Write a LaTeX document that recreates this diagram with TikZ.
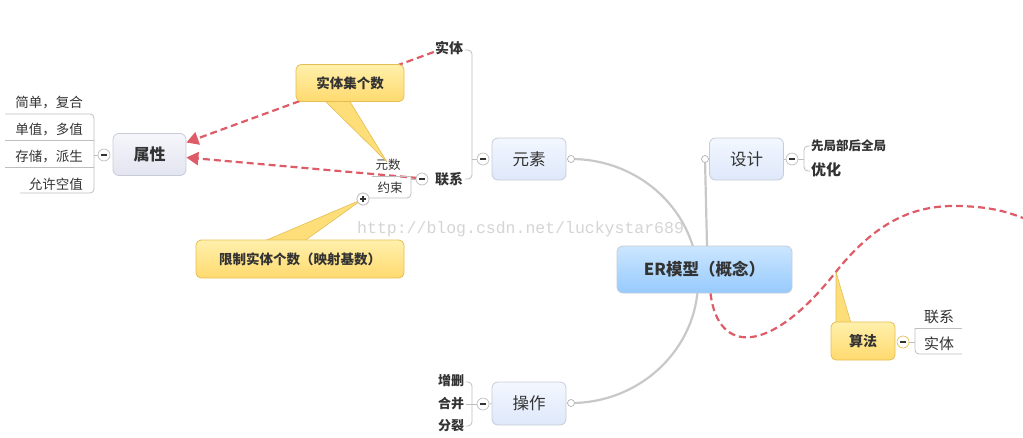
\documentclass[tikz,border=0pt]{standalone}
\usepackage{fontspec}
\usetikzlibrary{arrows.meta}
\setmainfont{Noto Sans CJK SC}
\newfontfamily\wmfont{Liberation Mono}
\definecolor{linegray}{RGB}{200,200,200}
\definecolor{thingray}{RGB}{190,190,190}
\definecolor{boxborder}{RGB}{198,204,214}
\definecolor{redl}{RGB}{222,92,104}
\definecolor{ytop}{RGB}{255,240,172}
\definecolor{ybot}{RGB}{255,218,110}
\definecolor{yfill}{RGB}{253,222,120}
\definecolor{yborder}{RGB}{228,190,84}
\definecolor{btop}{RGB}{204,230,255}
\definecolor{bbot}{RGB}{150,202,252}
\definecolor{ltop}{RGB}{243,247,255}
\definecolor{lbot}{RGB}{222,232,250}
\definecolor{ptop}{RGB}{246,246,251}
\definecolor{pbot}{RGB}{226,228,240}
\definecolor{txt}{RGB}{51,51,51}
\definecolor{wm}{RGB}{212,212,212}
\begin{document}
\begin{tikzpicture}[x=1pt,y=-1pt,
  topic/.style={draw=boxborder, line width=0.8pt, rounded corners=6pt, inner sep=0pt, text=txt},
  subtopic/.style={topic, top color=ltop, bottom color=lbot, minimum width=74pt, minimum height=42pt, font=\fontsize{16.5}{18}\selectfont},
  callbox/.style={draw=yborder, line width=0.8pt, rounded corners=5pt, top color=ytop, bottom color=ybot, inner sep=0pt, text=txt, font=\bfseries\fontsize{13.5}{15}\selectfont},
  pointer/.style={fill=yfill, draw=yborder, line width=0.6pt, line join=round},
  minus/.style={circle, draw=thingray, line width=0.7pt, fill=white, minimum size=12pt, inner sep=0pt,
    path picture={\draw[line width=1.2pt, black!80] ([xshift=-3pt]path picture bounding box.center) -- ([xshift=3pt]path picture bounding box.center);}},
  plus/.style={minus, path picture={\draw[line width=1.1pt, black!80] ([xshift=-3pt]path picture bounding box.center) -- ([xshift=3pt]path picture bounding box.center) ([yshift=-3pt]path picture bounding box.center) -- ([yshift=3pt]path picture bounding box.center);}},
  endc/.style={circle, draw=gray!60, line width=0.7pt, fill=white, minimum size=7pt, inner sep=0pt},
  leaf/.style={inner sep=0pt, text=txt, font=\fontsize{13.5}{15}\selectfont},
  bleaf/.style={inner sep=0pt, text=txt, font=\bfseries\fontsize{14}{16}\selectfont},
  thinl/.style={draw=thingray, line width=0.8pt},
  arcl/.style={draw=linegray, line width=2.2pt},
  rdash/.style={draw=redl, line width=2.2pt, dash pattern=on 7pt off 4pt},
  rarrow/.style={rdash, -{Triangle[length=12pt, width=13pt]}}
]
\useasboundingbox (0,0) rectangle (1023,437);

% watermark
\node[anchor=west, inner sep=0pt, text=wm, font=\wmfont\fontsize{16.5}{18}\selectfont] (wmk) at (357,229) {http://blog.csdn.net/luckystar689};

% connector end points
\coordinate (ysc) at (571,159);
\coordinate (czc) at (571,403);
\coordinate (sjc) at (705,159);

% main gray arc (behind the central topic)
\draw[arcl] (ysc) .. controls (641,159) and (698,213) .. (698,281)
                   .. controls (698,348) and (641,403) .. (czc);
\draw[arcl] (sjc) -- (707,246);

% central topic
\node[topic, top color=btop, bottom color=bbot, minimum width=175pt, minimum height=47pt,
      font=\bfseries\fontsize{16.5}{19}\selectfont] (er) at (704.5,269.5) {ER模型（概念）};

% red relationship curve
\draw[rdash] ([xshift=6pt]er.south) .. controls (718,355) and (770,355) .. (835,273)
             .. controls (880,216) and (920,205) .. (960,206)
             .. controls (990,207) and (1005,211) .. (1023,218);

% subtopics
\node[subtopic] (ys) at (529,159) {元素};
\node[subtopic] (sj) at (746.5,159) {设计};
\node[subtopic, minimum height=43pt] (cz) at (529,403.5) {操作};
\node[topic, top color=ptop, bottom color=pbot, minimum width=73pt, minimum height=42pt,
      font=\bfseries\fontsize{16}{18}\selectfont] (sx) at (149.5,154.5) {属性};

\node[endc] at (ysc) {};
\node[endc] at (czc) {};
\node[endc] at (sjc) {};

% ---------- 元素 branch ----------
\node[minus] (ysm) at (483,159) {};
\node[bleaf] (st) at (449,48) {实体};
\node[bleaf] (lx) at (449,179) {联系};
\draw[thinl, rounded corners=4pt] (465,50) -- (472,50) -- (472,179) -- (465,179);
\draw[thinl] (472,159) -- (ysm.west);

% red dashed arrows to 属性
\draw[rarrow] (st.west) ++(-1,4) -- ([yshift=12pt]sx.east);
\draw[rarrow] (418,178) -- ([yshift=-3pt]sx.east);

% 联系 children
\node[minus] (lxm) at (422,179) {};
\node[leaf, font=\fontsize{12.5}{14}\selectfont] (ysh) at (388,165) {元数};
\node[leaf, font=\fontsize{12.5}{14}\selectfont] (ysu) at (390,188) {约束};
\draw[thinl] (372,176) -- (411,176);
\draw[thinl, rounded corners=4pt] (411,176) -- (411,198) -- (369,198);
\draw[thinl] (lxm.west) -- (411,179);

% callout 实体集个数
\coordinate (t1) at (387,162);
\filldraw[pointer] (324,100) -- (t1) -- (349,100) -- cycle;
\node[callbox, minimum width=108pt, minimum height=37pt] (c1) at (350,83) {实体集个数};

% callout 限制实体个数
\node[plus] (yp) at (363,199) {};
\filldraw[pointer] (262,242) -- (yp.center) -- (303,242) -- cycle;
\node[plus] at (363,199) {};
\node[callbox, minimum width=208pt, minimum height=38pt] (c2) at (300,259) {限制实体个数（映射基数）};

% ---------- 属性 branch ----------
\node[minus] (sxm) at (104,155) {};
\node[leaf, anchor=east] (a1) at (83,103) {简单，复合};
\node[leaf, anchor=east] (a2) at (83,130) {单值，多值};
\node[leaf, anchor=east] (a3) at (83,157) {存储，派生};
\node[leaf, anchor=east] (a4) at (83,184) {允许空值};
\draw[thinl, rounded corners=4pt] (5,114) -- (94,114) -- (94,193) -- (20,193);
\draw[thinl] (5,140.5) -- (94,140.5);
\draw[thinl] (5,167) -- (94,167);
\draw[thinl] (94,155) -- (sxm.west);

% ---------- 设计 branch ----------
\node[minus] (sjm) at (792,159) {};
\node[inner sep=0pt, text=txt, font=\bfseries\fontsize{12.5}{14}\selectfont, anchor=west] (d1) at (811,146) {先局部后全局};
\node[inner sep=0pt, text=txt, font=\bfseries\fontsize{15}{17}\selectfont, anchor=west] (d2) at (811,170) {优化};
\draw[thinl, rounded corners=4pt] (810,146) -- (804,146) -- (804,171) -- (810,171);
\draw[thinl] (sj.east) -- (sjm.west);
\draw[thinl] (sjm.east) -- (804,159);

% ---------- 操作 branch ----------
\node[minus] (czm) at (483,404) {};
\node[bleaf, font=\bfseries\fontsize{13}{15}\selectfont] (o1) at (451,381) {增删};
\node[bleaf, font=\bfseries\fontsize{13}{15}\selectfont] (o2) at (451,404) {合并};
\node[bleaf, font=\bfseries\fontsize{13}{15}\selectfont] (o3) at (451,426) {分裂};
\draw[thinl, rounded corners=4pt] (466,382) -- (472,382) -- (472,426) -- (466,426);
\draw[thinl] (466,404) -- (czm.west);
\draw[thinl] (czm.east) -- (cz.west);

% ---------- 算法 callout ----------
\filldraw[pointer] (836,323) -- (836,272) -- (851,323) -- cycle;
\node[callbox, minimum width=64pt, minimum height=38pt, font=\bfseries\fontsize{14}{16}\selectfont] (sf) at (863,341) {算法};
\node[minus, draw=yborder] (sfm) at (903,342) {};
\node[leaf, font=\fontsize{15}{17}\selectfont] (f1) at (939,317) {联系};
\node[leaf, font=\fontsize{15}{17}\selectfont] (f2) at (939,344) {实体};
\draw[thinl] (915,328) -- (962,328);
\draw[thinl, rounded corners=4pt] (915,328) -- (915,354) -- (962,354);
\draw[thinl] (sfm.east) -- (915,342);

\end{tikzpicture}
\end{document}
